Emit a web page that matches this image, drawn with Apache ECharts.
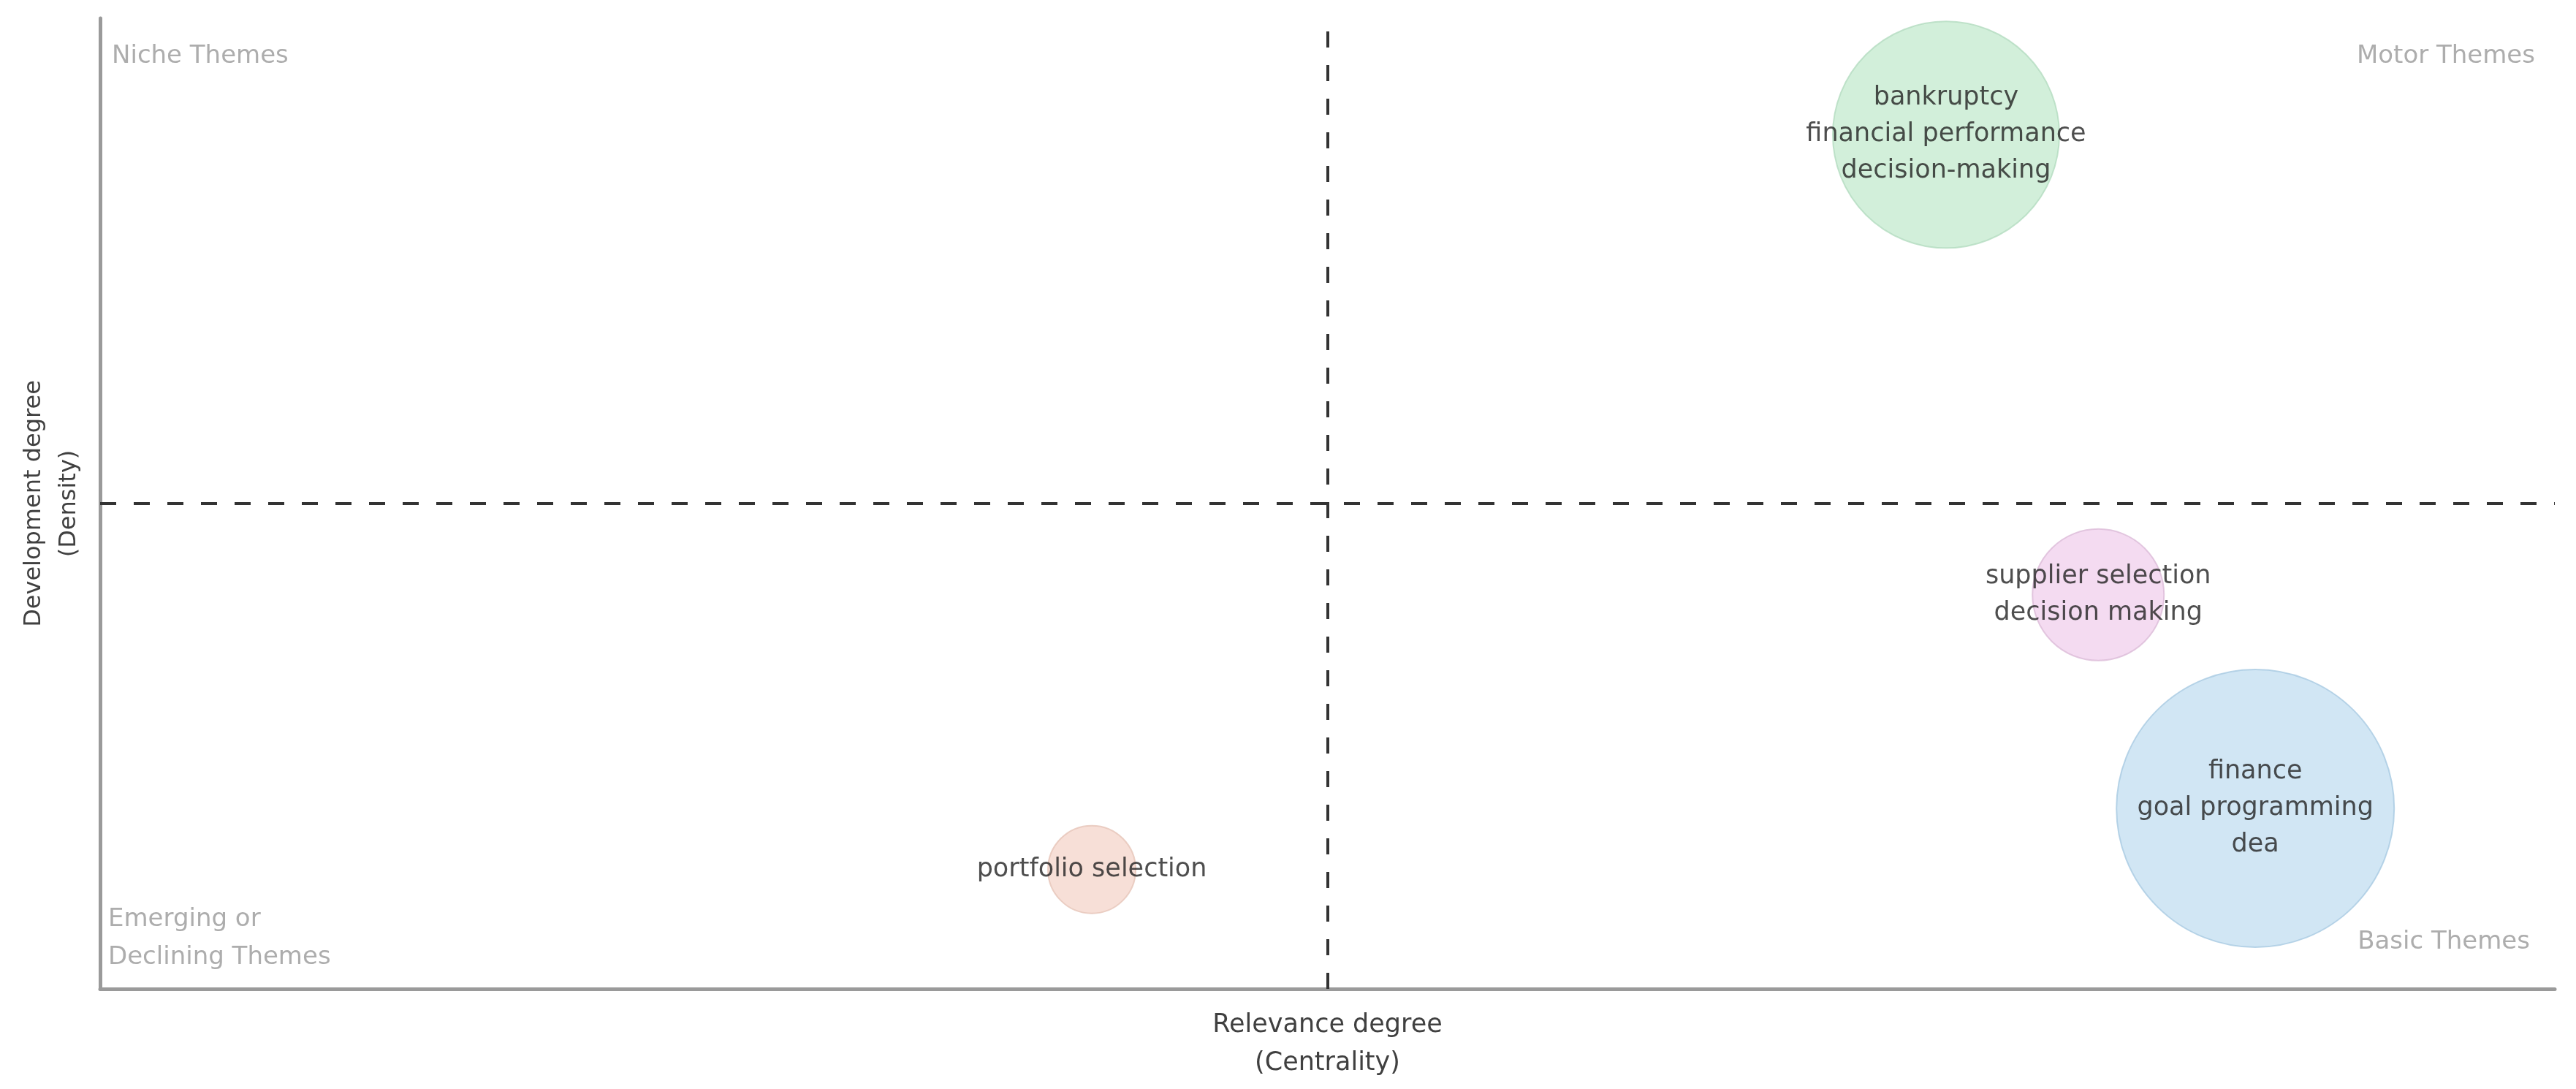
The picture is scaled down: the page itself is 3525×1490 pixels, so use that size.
<!DOCTYPE html>
<html>
<head>
<meta charset="utf-8">
<title>Thematic map</title>
<script src="https://cdn.jsdelivr.net/npm/echarts@6/dist/echarts.min.js"></script>
<style>
  html, body { margin: 0; padding: 0; background: #fff; }
  #chart { width: 3525px; height: 1490px; }
</style>
</head>
<body>
<div id="chart"></div>
<script>
// theme clusters
const themes = [
  'bankruptcy\nfinancial performance\ndecision-making',
  'supplier selection\ndecision making',
  'finance\ngoal programming\ndea',
  'portfolio selection'
];
const centrality = [75.2, 81.4, 87.8, 40.4];
const density = [88.0, 40.6, 18.6, 12.3];
const clusterSize = [31, 18, 38, 12];
// quadrant split (median of both axes)
const splitX = [50];
const splitY = [50];
const quadrantNames = ['Niche Themes', 'Motor Themes', 'Emerging or\nDeclining Themes', 'Basic Themes'];

const fills = ['rgba(196,234,206,0.95)', 'rgba(240,208,236,0.95)', 'rgba(194,222,240,0.95)', 'rgba(244,213,202,0.95)'];
const edges = ['#b4dcc0', '#dcbcd8', '#a9cbe2', '#e6c4b8'];

const chart = echarts.init(document.getElementById('chart'));

const points = themes.map((name, i) => ({
  name: name,
  value: [centrality[i], density[i], clusterSize[i]],
  itemStyle: { color: fills[i], borderColor: edges[i], borderWidth: 2 }
}));

const quadFont = { fontFamily: 'DejaVu Sans', fontSize: 34, fill: '#adadad' };

chart.setOption({
  animation: false,
  grid: { left: 137, top: 25, right: 29, bottom: 137, outerBoundsMode: 'none', containLabel: false },
  xAxis: {
    type: 'value', min: 0, max: 100,
    name: 'Relevance degree\n(Centrality)',
    nameLocation: 'middle', nameGap: 24,
    nameTextStyle: { fontFamily: 'DejaVu Sans', fontSize: 35, color: '#404040', lineHeight: 52, verticalAlign: 'top' },
    axisLine: { lineStyle: { color: '#9a9a9a', width: 5 } },
    axisTick: { show: false }, axisLabel: { show: false }, splitLine: { show: false }
  },
  yAxis: {
    type: 'value', min: 0, max: 100,
    name: 'Development degree\n(Density)',
    nameLocation: 'middle', nameGap: 18, nameRotate: 90,
    nameTextStyle: { fontFamily: 'DejaVu Sans', fontSize: 32, color: '#404040', lineHeight: 48 },
    axisLine: { show: true, lineStyle: { color: '#9a9a9a', width: 5 } },
    axisTick: { show: false }, axisLabel: { show: false }, splitLine: { show: false }
  },
  series: [{
    type: 'scatter',
    data: points,
    symbolSize: v => v[2] * 10,
    label: {
      show: true, position: 'inside',
      formatter: p => p.name,
      fontFamily: 'DejaVu Sans', fontSize: 35, lineHeight: 50, color: '#222'
    },
    markLine: {
      silent: true, symbol: 'none',
      label: { show: false },
      lineStyle: { color: '#333', width: 4, type: [22, 24] },
      data: [{ xAxis: splitX[0] }, { yAxis: splitY[0] }]
    }
  }],
  graphic: [
    { type: 'text', left: 153, top: 60, style: Object.assign({ text: quadrantNames[0] }, quadFont) },
    { type: 'text', right: 56, top: 60, style: Object.assign({ text: quadrantNames[1] }, quadFont) },
    { type: 'text', left: 148, top: 1232, style: Object.assign({ text: quadrantNames[2], lineHeight: 52 }, quadFont) },
    { type: 'text', right: 63, top: 1272, style: Object.assign({ text: quadrantNames[3] }, quadFont) }
  ]
});
</script>
</body>
</html>
